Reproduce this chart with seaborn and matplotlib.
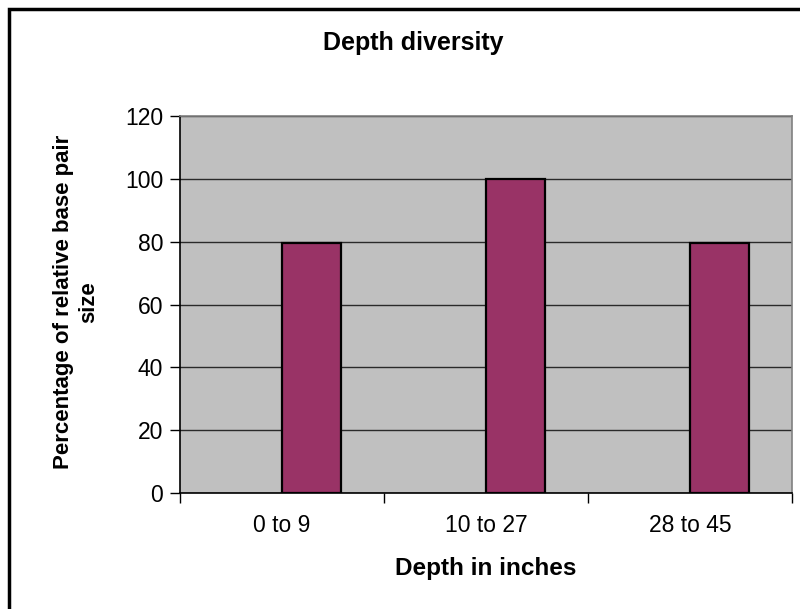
import matplotlib
matplotlib.use("Agg")
import matplotlib.pyplot as plt
import seaborn as sns
import pandas as pd
import numpy as np
from matplotlib.patches import Rectangle

# Data
depth_ranges = ["0 to 9", "10 to 27", "28 to 45"]
relative_size_pct = [79.5, 100, 79.5]
series_names = ["(blank)", "Relative size"]
y_ticks = [0, 20, 40, 60, 80, 100, 120]

# Two-series layout: the first series is empty, so the drawn bar sits right of centre
df = pd.DataFrame({
    "depth": depth_ranges * 2,
    "pct": [np.nan] * len(depth_ranges) + relative_size_pct,
    "series": [series_names[0]] * len(depth_ranges) + [series_names[1]] * len(depth_ranges),
})

plt.rcParams["font.family"] = ["Liberation Sans", "DejaVu Sans"]

fig = plt.figure(figsize=(8, 6.09), dpi=100)
ax = fig.add_axes([180 / 800, 1 - 493 / 609, 612 / 800, 377 / 609])
ax.set_facecolor("#C0C0C0")

sns.barplot(data=df, x="depth", y="pct", hue="series", hue_order=series_names,
            palette=["#993366", "#993366"], saturation=1, dodge=True,
            edgecolor="black", linewidth=1.6, width=0.575, gap=0,
            legend=False, ax=ax, zorder=3)

ax.set_xlim(-0.5, 2.5)
ax.set_ylim(0, 120)
ax.set_yticks(y_ticks)
ax.yaxis.grid(True, color="#2a2a2a", linewidth=1.0, zorder=1)
ax.set_axisbelow(True)

# category labels centred, tick marks on the boundaries between them
ax.set_xticks(range(len(depth_ranges)))
ax.set_xticklabels(depth_ranges, fontsize=16.5)
ax.set_xticks([-0.5, 0.5, 1.5, 2.5], minor=True)
ax.tick_params(axis="x", which="major", length=0, pad=15)
ax.tick_params(axis="x", which="minor", length=7, width=1, color="black", direction="out")
ax.tick_params(axis="y", length=7, width=1, color="black", labelsize=16.5, pad=5)

for side in ("left", "bottom"):
    ax.spines[side].set_color("black")
    ax.spines[side].set_linewidth(1.2)
for side in ("top", "right"):
    ax.spines[side].set_color("#808080")
    ax.spines[side].set_linewidth(1.2)

ax.set_xlabel("Depth in inches", fontsize=17.5, fontweight="bold")
ax.xaxis.set_label_coords(0.5, (493 - 568) / 377)
ax.xaxis.label.set_va("center")

ax.set_ylabel("Percentage of relative base pair\nsize", fontsize=16,
              fontweight="bold", linespacing=1.3)
ax.yaxis.set_label_coords((76 - 180) / 612, (493 - 302) / 377)
ax.yaxis.label.set_va("center")

fig.text(413 / 800, 1 - 43 / 609, "Depth diversity", fontsize=18,
         fontweight="bold", ha="center", va="center")

# chart area border
fig.add_artist(Rectangle((9 / 800, -0.2), 1.2, 1.2 - 9 / 609,
                         transform=fig.transFigure, fill=False,
                         edgecolor="black", linewidth=2.5, clip_on=False))

fig.savefig("out.png", dpi=100, facecolor="white")
